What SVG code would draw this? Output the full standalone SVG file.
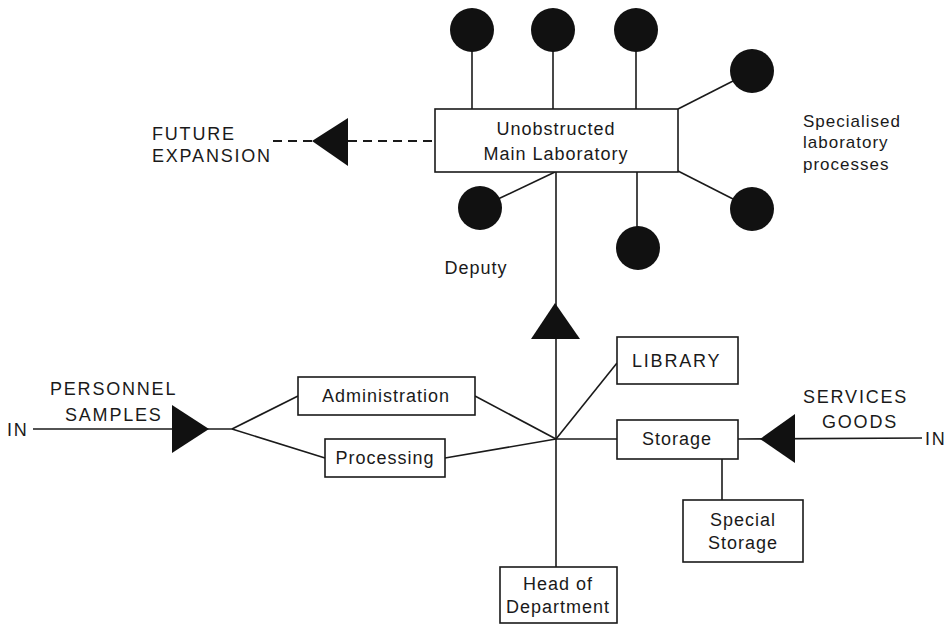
<svg xmlns="http://www.w3.org/2000/svg" width="950" height="624" viewBox="0 0 950 624">
<style>
.box{fill:#fff;stroke:#1a1a1a;stroke-width:1.6}
.ln{stroke:#1a1a1a;stroke-width:1.6;fill:none}
.dash{stroke:#1a1a1a;stroke-width:1.8;fill:none;stroke-dasharray:9 6}
.dot{fill:#111}
.tri{fill:#111}
text{font-family:"Liberation Sans",Arial,sans-serif;fill:#1a1a1a}
.t{font-size:18px;letter-spacing:1px;text-anchor:middle}
.u{font-size:18px;letter-spacing:1.8px}
.s{font-size:17px;letter-spacing:1px}
</style>
<rect width="950" height="624" fill="#fff"/>
<g id="connectors">
<line class="ln" x1="472" y1="50" x2="472" y2="109"/>
<line class="ln" x1="553" y1="50" x2="553" y2="109"/>
<line class="ln" x1="636" y1="50" x2="636" y2="109"/>
<line class="ln" x1="678" y1="109" x2="735" y2="80"/>
<line class="ln" x1="678" y1="171" x2="735" y2="200"/>
<line class="ln" x1="637" y1="172" x2="637" y2="228"/>
<line class="ln" x1="555" y1="172" x2="498" y2="199"/>
<line class="dash" x1="273" y1="141" x2="435" y2="141"/>
<line class="ln" x1="556" y1="172" x2="556" y2="567"/>
<line class="ln" x1="33" y1="429" x2="232" y2="429"/>
<line class="ln" x1="232" y1="429" x2="298" y2="396"/>
<line class="ln" x1="232" y1="429" x2="325" y2="458"/>
<line class="ln" x1="475" y1="396" x2="556" y2="439"/>
<line class="ln" x1="445" y1="458" x2="556" y2="439"/>
<line class="ln" x1="556" y1="439" x2="617" y2="363"/>
<line class="ln" x1="556" y1="439" x2="617" y2="439"/>
<line class="ln" x1="738" y1="439" x2="922" y2="438"/>
<line class="ln" x1="722" y1="459" x2="722" y2="500"/>
<polygon class="tri" points="312,141 348,118 348,166"/>
<polygon class="tri" points="555,303 531,339 580,339"/>
<polygon class="tri" points="209,429 172,405 172,453"/>
<polygon class="tri" points="760,439 795,414 795,463"/>
</g>
<g id="labs">
<circle class="dot" cx="472" cy="30" r="22"/>
<circle class="dot" cx="553" cy="30" r="22"/>
<circle class="dot" cx="636" cy="30" r="22"/>
<circle class="dot" cx="752" cy="71" r="22"/>
<circle class="dot" cx="752" cy="209" r="22"/>
<circle class="dot" cx="638" cy="248" r="22"/>
<circle class="dot" cx="480" cy="208" r="22"/>
</g>
<g id="main-lab">
<rect class="box" x="435" y="109" width="243" height="63"/>
<text class="t" x="556" y="135">Unobstructed</text>
<text class="t" x="556" y="160">Main Laboratory</text>
</g>
<g id="future">
<text class="u" x="152" y="140">FUTURE</text>
<text class="u" x="152" y="162">EXPANSION</text>
</g>
<g id="specialised">
<text class="s" x="803" y="127">Specialised</text>
<text class="s" x="803" y="148">laboratory</text>
<text class="s" x="803" y="170">processes</text>
</g>
<g id="deputy"><text class="t" x="476" y="274">Deputy</text></g>
<g id="in-left">
<text class="u" x="7" y="436">IN</text>
<text class="u" x="50" y="395">PERSONNEL</text>
<text class="u" x="65" y="421">SAMPLES</text>
</g>
<g id="administration">
<rect class="box" x="298" y="377" width="177" height="38"/>
<text class="t" x="386" y="402">Administration</text>
</g>
<g id="processing">
<rect class="box" x="325" y="439" width="120" height="38"/>
<text class="t" x="385" y="464">Processing</text>
</g>
<g id="library">
<rect class="box" x="617" y="337" width="121" height="47"/>
<text class="u" x="632" y="367">LIBRARY</text>
</g>
<g id="storage">
<rect class="box" x="617" y="420" width="121" height="39"/>
<text class="t" x="677" y="445">Storage</text>
</g>
<g id="special-storage">
<rect class="box" x="683" y="500" width="120" height="62"/>
<text class="t" x="743" y="526">Special</text>
<text class="t" x="743" y="549">Storage</text>
</g>
<g id="in-right">
<text class="u" x="803" y="403">SERVICES</text>
<text class="u" x="822" y="428">GOODS</text>
<text class="u" x="925" y="445">IN</text>
</g>
<g id="head">
<rect class="box" x="500" y="567" width="117" height="56"/>
<text class="t" x="558" y="590">Head of</text>
<text class="t" x="558" y="613">Department</text>
</g>
</svg>
